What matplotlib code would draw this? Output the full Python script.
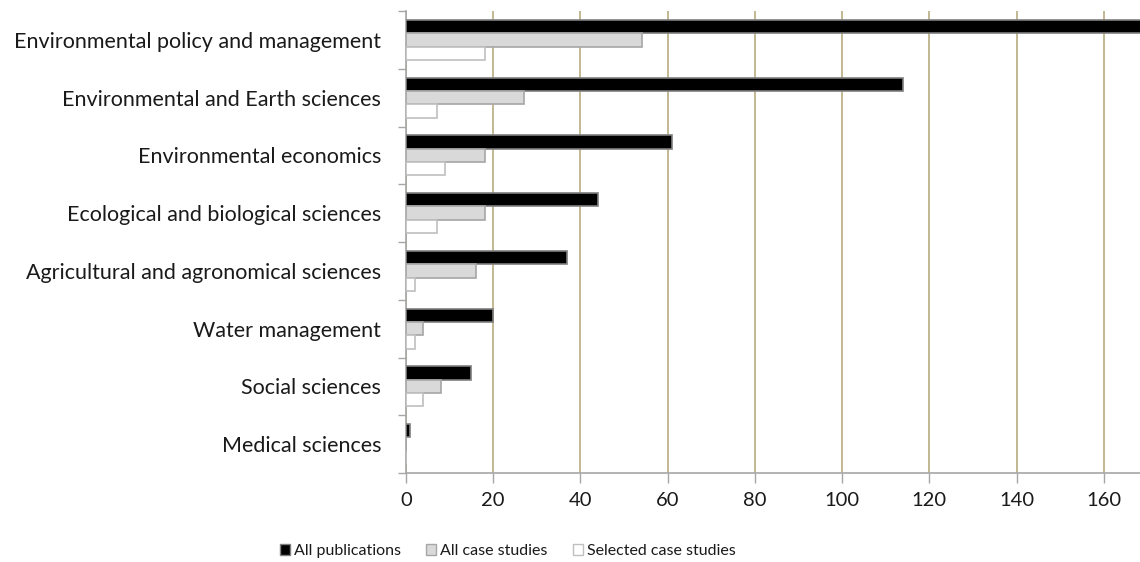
import matplotlib.pyplot as plt
import numpy as np
from matplotlib.patches import Patch

categories = [
    'Environmental policy and management',
    'Environmental and Earth sciences',
    'Environmental economics',
    'Ecological and biological sciences',
    'Agricultural and agronomical sciences',
    'Water management',
    'Social sciences',
    'Medical sciences',
]
all_publications = [170, 114, 61, 44, 37, 20, 15, 1]
all_case_studies = [54, 27, 18, 18, 16, 4, 8, 0]
selected_case_studies = [18, 7, 9, 7, 2, 2, 4, 0]
xticks = [0, 20, 40, 60, 80, 100, 120, 140, 160]

plt.rcParams['font.family'] = ['Lato', 'DejaVu Sans']

fig = plt.figure(figsize=(11.4, 5.62), dpi=100)
ax = fig.add_axes([406 / 1140, 1 - 473 / 562, 1 - 406 / 1140, (473 - 11) / 562])

n = len(categories)
y = np.arange(n)
h = 0.23
series = [
    (all_publications, '#000000', '#7f7f7f', 'All publications'),
    (all_case_studies, '#d9d9d9', '#a6a6a6', 'All case studies'),
    (selected_case_studies, '#ffffff', '#bfbfbf', 'Selected case studies'),
]
for i, (vals, fc, ec, lab) in enumerate(series):
    ax.barh(y + (i - 1) * h, vals, height=h, color=fc, edgecolor=ec,
            linewidth=1.2, label=lab, zorder=3)

ax.set_xlim(0, 168.3)
ax.set_ylim(n - 0.5, -0.5)

# vertical gridlines
ax.set_xticks(xticks)
ax.xaxis.grid(True, color='#bdb38a', linewidth=1.3, zorder=0)
ax.tick_params(axis='x', length=7, width=1, color='#a6a6a6', labelsize=14.5,
               pad=7, labelcolor='#1a1a1a')

# category ticks sit between groups, labels in the middle
ax.set_yticks(np.arange(n + 1) - 0.5)
ax.set_yticklabels([])
ax.set_yticks(y, minor=True)
ax.set_yticklabels(categories, minor=True)
ax.tick_params(axis='y', which='major', length=6, width=1, color='#a6a6a6')
ax.tick_params(axis='y', which='minor', length=0, pad=18, labelsize=15.5,
               labelcolor='#1a1a1a')

for side in ['top', 'right']:
    ax.spines[side].set_visible(False)
for side in ['left', 'bottom']:
    ax.spines[side].set_color('#a6a6a6')
    ax.spines[side].set_linewidth(1.2)

handles = [Patch(facecolor=fc, edgecolor=ec, label=lab) for _, fc, ec, lab in series]
leg = fig.legend(handles=handles, loc='center', bbox_to_anchor=(508 / 1140, 1 - 551 / 562),
                 ncol=3, frameon=False, fontsize=11.5, handlelength=0.63, handleheight=0.63,
                 handletextpad=0.25, columnspacing=1.6)
for t in leg.get_texts():
    t.set_color('#1a1a1a')

fig.savefig('out.png', dpi=100)
